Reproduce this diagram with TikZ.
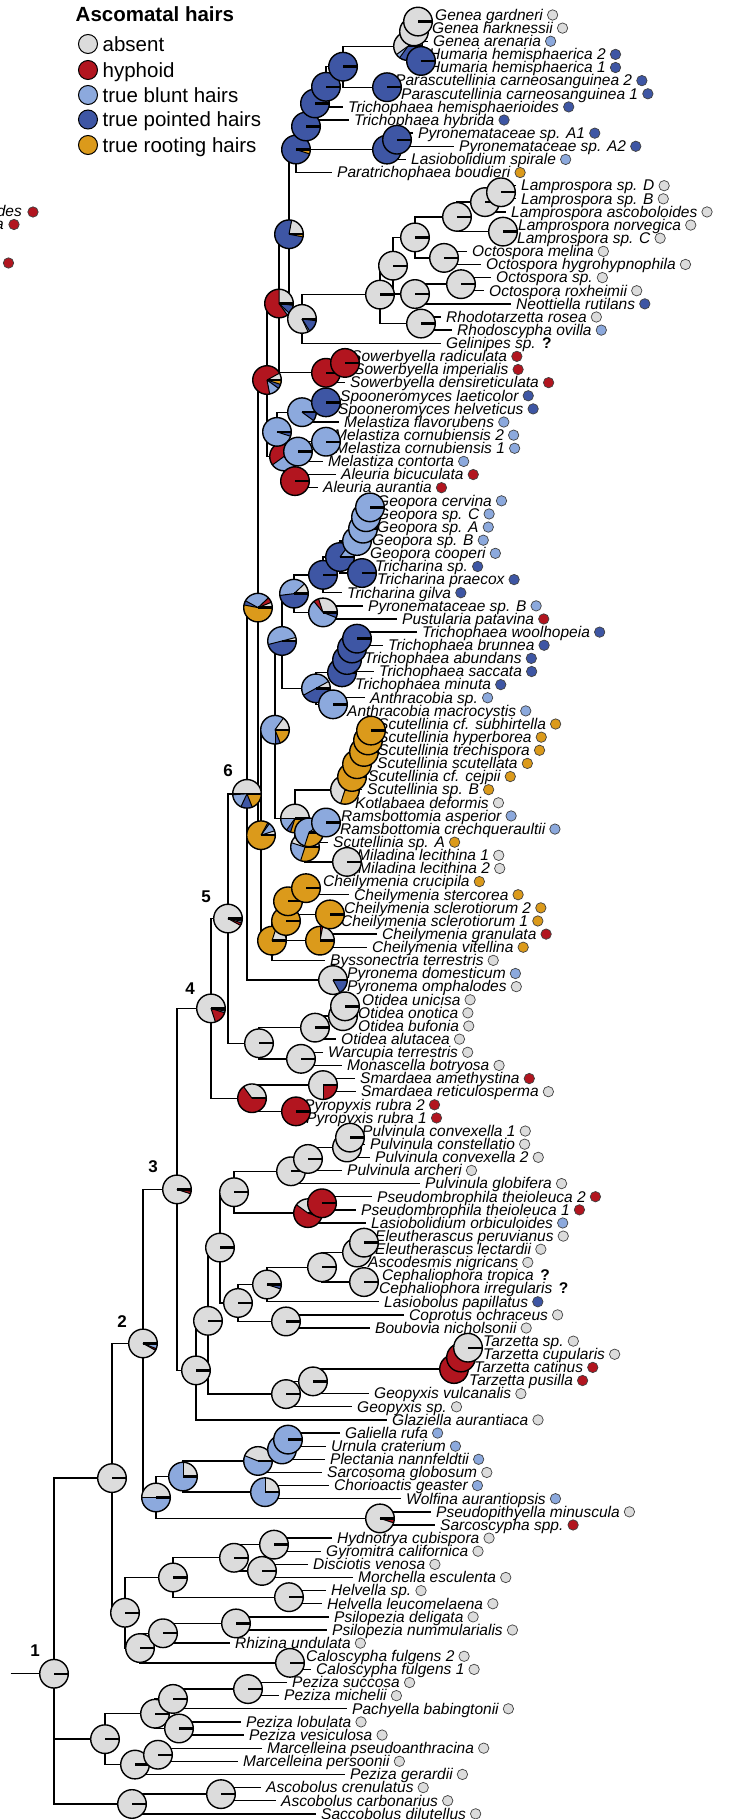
\documentclass[tikz,border=0pt]{standalone}
\usepackage{fontspec}
\setmainfont{Liberation Sans}
\usetikzlibrary{calc}
\pgfdeclarelayer{edges}
\pgfsetlayers{edges,main}

\definecolor{cAbs}{HTML}{DCDCDC}
\definecolor{cHyp}{HTML}{B2151F}
\definecolor{cBlu}{HTML}{8CA9DD}
\definecolor{cPoi}{HTML}{3E56A4}
\definecolor{cRoo}{HTML}{DB9A1B}

\tikzset{
  branch/.style={line width=1.35pt, line join=miter},
  pieedge/.style={line width=1.4pt},
  pieslicer/.style={line width=1pt},
  pietick/.style={line width=2.4pt},
  taxon/.style={font=\fontsize{15.5}{15.5}\selectfont\itshape, anchor=base west, inner sep=0pt},
  qmark/.style={font=\fontsize{15.5}{15.5}\selectfont\bfseries, anchor=base west, inner sep=0pt},
  tipdot/.style={line width=0.7pt, draw=black!75},
  legdot/.style={line width=1pt, draw=black},
  legtext/.style={font=\fontsize{20.5}{20.5}\selectfont, anchor=base west, inner sep=0pt},
  numlab/.style={font=\fontsize{17}{17}\selectfont\bfseries, inner sep=0pt},
}

% pie geometry
\def\prr{14.3pt}
% single-state pies
\def\gA{{1}{0}{0}{0}{0}}
\def\gH{{0}{1}{0}{0}{0}}
\def\gB{{0}{0}{1}{0}{0}}
\def\gP{{0}{0}{0}{1}{0}}
\def\gR{{0}{0}{0}{0}{1}}

\newcommand\Y[1]{\csname ny#1\endcsname}

% one wedge of a pie, counterclockwise from #2 to #3 degrees
\newcommand\pieslice[4]{%
  \pgfmathsetmacro\pw{#3-#2}%
  \ifdim\pw pt>0.5pt
    \fill[#4] (#1) -- ++({\prr*cos(#2)},{\prr*sin(#2)}) arc[start angle=#2, end angle=#3, radius=\prr] -- cycle;
    \draw[pieslicer] (#1) -- ++({\prr*cos(#2)},{\prr*sin(#2)});
  \fi}

% pie of the five states: absent, hyphoid, blunt, pointed, rooting
\newcommand\piechart[6]{%
  \pgfmathsetmacro\ptot{#2+#3+#4+#5+#6}%
  \pgfmathsetmacro\pA{360*(#2)/\ptot}%
  \pgfmathsetmacro\pB{360*(#2+#3)/\ptot}%
  \pgfmathsetmacro\pC{360*(#2+#3+#4)/\ptot}%
  \pgfmathsetmacro\pD{360*(#2+#3+#4+#5)/\ptot}%
  \pieslice{#1}{0}{\pA}{cAbs}%
  \pieslice{#1}{\pA}{\pB}{cHyp}%
  \pieslice{#1}{\pB}{\pC}{cBlu}%
  \pieslice{#1}{\pC}{\pD}{cPoi}%
  \pieslice{#1}{\pD}{360}{cRoo}%
  \draw[pieedge] (#1) circle[radius=\prr];
  \draw[pietick] (#1) -- ++(\prr,0pt);
}

% pies are queued so that the root is drawn first and deeper nodes on top
\gdef\pielist{}
\newcommand\queuepie[2]{\xdef\pielist{\noexpand\piechart{#1}#2\unexpanded\expandafter{\pielist}}}

% tip: name, row, branch end, label, state colour
\newcommand\tip[5]{%
  \expandafter\pgfmathsetmacro\csname ny#1\endcsname{15+13.13*#2}%
  \coordinate (#1) at (#3,\Y{#1});
  \node[taxon] (#1l) at ([xshift=5pt,yshift=-5.3pt]#1) {#4};
  \filldraw[tipdot,fill=#5] ([xshift=9.5pt]#1l.east |- #1) circle[radius=5.2pt];
}
% tip with unknown state
\newcommand\tipq[4]{%
  \expandafter\pgfmathsetmacro\csname ny#1\endcsname{15+13.13*#2}%
  \coordinate (#1) at (#3,\Y{#1});
  \node[taxon] (#1l) at ([xshift=5pt,yshift=-5.3pt]#1) {#4};
  \node[qmark] (#1q) at ([xshift=6pt]#1l.base east) {?};
}
% internal node: name, x, upper child, lower child, pie shares
\newcommand\clade[5]{%
  \expandafter\pgfmathsetmacro\csname ny#1\endcsname{(\Y{#3}+\Y{#4})/2}%
  \coordinate (#1) at (#2,\Y{#1});
  \begin{pgfonlayer}{edges}
    \draw[branch] (#3) -- (#2,\Y{#3}) -- (#2,\Y{#4}) -- (#4);
  \end{pgfonlayer}
  \queuepie{#1}{#5}%
}
% node with three children
\newcommand\cladeiii[6]{%
  \expandafter\pgfmathsetmacro\csname ny#1\endcsname{(\Y{#3}+\Y{#4}+\Y{#5})/3}%
  \coordinate (#1) at (#2,\Y{#1});
  \begin{pgfonlayer}{edges}
    \draw[branch] (#3) -- (#2,\Y{#3}) -- (#2,\Y{#5}) -- (#5);
    \draw[branch] (#2,\Y{#4}) -- (#4);
  \end{pgfonlayer}
  \queuepie{#1}{#6}%
}

\begin{document}
\begin{tikzpicture}[x=1pt,y=-1pt]
\useasboundingbox (0,0) rectangle (732,1819);
\clip (0,0) rectangle (732,1819);

% ---------- legend ----------
\node[anchor=base west, inner sep=0pt, font=\fontsize{20.5}{20.5}\selectfont\bfseries] (lgT) at (75.5,21.5) {Ascomatal hairs};
\foreach \c/\t/\yy [count=\i] in {cAbs/absent/44, cHyp/hyphoid/70, cBlu/true blunt hairs/95, cPoi/true pointed hairs/119.5, cRoo/true rooting hairs/145}{
  \filldraw[legdot, fill=\c] (88,\yy) circle[radius=9.5pt];
  \node[legtext] (lg\i) at (102.5,\yy+7.2) {\t};
}

% ---------- label ends cut off at the left margin ----------
\node[taxon, anchor=base east] (fragA) at (22,217) {des};
\filldraw[tipdot,fill=cHyp] (33,212) circle[radius=5.2pt];
\node[taxon, anchor=base east] (fragB) at (4,229.5) {a};
\filldraw[tipdot,fill=cHyp] (14,224.5) circle[radius=5.2pt];
\filldraw[tipdot,fill=cHyp] (8.5,263) circle[radius=5.2pt];

% ---------- tips ----------
\tip{t0}{0}{430}{Genea gardneri}{cAbs}
\tip{t1}{1}{427}{Genea harknessii}{cAbs}
\tip{t2}{2}{428}{Genea arenaria}{cBlu}
\tip{t3}{3}{424}{Humaria hemisphaerica 2}{cPoi}
\tip{t4}{4}{424}{Humaria hemisphaerica 1}{cPoi}
\tip{t5}{5}{390}{Parascutellinia carneosanguinea 2}{cPoi}
\tip{t6}{6}{396}{Parascutellinia carneosanguinea 1}{cPoi}
\tip{t7}{7}{343}{Trichophaea hemisphaerioides}{cPoi}
\tip{t8}{8}{349}{Trichophaea hybrida}{cPoi}
\tip{t9}{9}{413}{Pyronemataceae sp. A1}{cPoi}
\tip{t10}{10}{454}{Pyronemataceae sp. A2}{cPoi}
\tip{t11}{11}{406}{Lasiobolidium spirale}{cBlu}
\tip{t12}{12}{332}{Paratrichophaea boudieri}{cRoo}
\tip{t13}{13}{516}{Lamprospora sp. D}{cAbs}
\tip{t14}{14}{516}{Lamprospora sp. B}{cAbs}
\tip{t15}{15}{506}{Lamprospora ascoboloides}{cAbs}
\tip{t16}{16}{513}{Lamprospora norvegica}{cAbs}
\tip{t17}{17}{512}{Lamprospora sp. C}{cAbs}
\tip{t18}{18}{467}{Octospora melina}{cAbs}
\tip{t19}{19}{481}{Octospora hygrohypnophila}{cAbs}
\tip{t20}{20}{491}{Octospora sp.}{cAbs}
\tip{t21}{21}{484}{Octospora roxheimii}{cAbs}
\tip{t22}{22}{511}{Neottiella rutilans}{cPoi}
\tip{t23}{23}{441}{Rhodotarzetta rosea}{cAbs}
\tip{t24}{24}{452}{Rhodoscypha ovilla}{cBlu}
\tipq{t25}{25}{441}{Gelinipes sp.}
\tip{t26}{26}{346}{Sowerbyella radiculata}{cHyp}
\tip{t27}{27}{349}{Sowerbyella imperialis}{cHyp}
\tip{t28}{28}{345}{Sowerbyella densireticulata}{cHyp}
\tip{t29}{29}{335}{Spooneromyces laeticolor}{cPoi}
\tip{t30}{30}{333}{Spooneromyces helveticus}{cPoi}
\tip{t31}{31}{339}{Melastiza flavorubens}{cBlu}
\tip{t32}{32}{329}{Melastiza cornubiensis 2}{cBlu}
\tip{t33}{33}{330}{Melastiza cornubiensis 1}{cBlu}
\tip{t34}{34}{323}{Melastiza contorta}{cBlu}
\tip{t35}{35}{336}{Aleuria bicuculata}{cHyp}
\tip{t36}{36}{318}{Aleuria aurantia}{cHyp}
\tip{t37}{37}{372}{Geopora cervina}{cBlu}
\tip{t38}{38}{372}{Geopora sp. C}{cBlu}
\tip{t39}{39}{372}{Geopora sp. A}{cBlu}
\tip{t40}{40}{367}{Geopora sp. B}{cBlu}
\tip{t41}{41}{365}{Geopora cooperi}{cBlu}
\tip{t42}{42}{370}{Tricharina sp.}{cPoi}
\tip{t43}{43}{372}{Tricharina praecox}{cPoi}
\tip{t44}{44}{342}{Tricharina gilva}{cPoi}
\tip{t45}{45}{363}{Pyronemataceae sp. B}{cBlu}
\tip{t46}{46}{397}{Pustularia patavina}{cHyp}
\tip{t47}{47}{417}{Trichophaea woolhopeia}{cPoi}
\tip{t48}{48}{383}{Trichophaea brunnea}{cPoi}
\tip{t49}{49}{359}{Trichophaea abundans}{cPoi}
\tip{t50}{50}{374}{Trichophaea saccata}{cPoi}
\tip{t51}{51}{350}{Trichophaea minuta}{cPoi}
\tip{t52}{52}{365}{Anthracobia sp.}{cBlu}
\tip{t53}{53}{342}{Anthracobia macrocystis}{cBlu}
\tip{t54}{54}{373}{Scutellinia cf. subhirtella}{cRoo}
\tip{t55}{55}{373}{Scutellinia hyperborea}{cRoo}
\tip{t56}{56}{373}{Scutellinia trechispora}{cRoo}
\tip{t57}{57}{372}{Scutellinia scutellata}{cRoo}
\tip{t58}{58}{363}{Scutellinia cf. cejpii}{cRoo}
\tip{t59}{59}{362}{Scutellinia sp. B}{cRoo}
\tip{t60}{60}{350}{Kotlabaea deformis}{cAbs}
\tip{t61}{61}{336}{Ramsbottomia asperior}{cBlu}
\tip{t62}{62}{335}{Ramsbottomia crechqueraultii}{cBlu}
\tip{t63}{63}{328}{Scutellinia sp. A}{cRoo}
\tip{t64}{64}{352}{Miladina lecithina 1}{cAbs}
\tip{t65}{65}{353}{Miladina lecithina 2}{cAbs}
\tip{t66}{66}{318}{Cheilymenia crucipila}{cRoo}
\tip{t67}{67}{349}{Cheilymenia stercorea}{cRoo}
\tip{t68}{68}{339}{Cheilymenia sclerotiorum 2}{cRoo}
\tip{t69}{69}{336}{Cheilymenia sclerotiorum 1}{cRoo}
\tip{t70}{70}{377}{Cheilymenia granulata}{cHyp}
\tip{t71}{71}{367}{Cheilymenia vitellina}{cRoo}
\tip{t72}{72}{325}{Byssonectria terrestris}{cAbs}
\tip{t73}{73}{342}{Pyronema domesticum}{cBlu}
\tip{t74}{74}{342}{Pyronema omphalodes}{cAbs}
\tip{t75}{75}{357}{Otidea unicisa}{cAbs}
\tip{t76}{76}{353}{Otidea onotica}{cAbs}
\tip{t77}{77}{353}{Otidea bufonia}{cAbs}
\tip{t78}{78}{336}{Otidea alutacea}{cAbs}
\tip{t79}{79}{323}{Warcupia terrestris}{cAbs}
\tip{t80}{80}{342}{Monascella botryosa}{cAbs}
\tip{t81}{81}{355}{Smardaea amethystina}{cHyp}
\tip{t82}{82}{356}{Smardaea reticulosperma}{cAbs}
\tip{t83}{83}{299}{Pyropyxis rubra 2}{cHyp}
\tip{t84}{84}{301}{Pyropyxis rubra 1}{cHyp}
\tip{t85}{85}{357}{Pulvinula convexella 1}{cAbs}
\tip{t86}{86}{365}{Pulvinula constellatio}{cAbs}
\tip{t87}{87}{370}{Pulvinula convexella 2}{cAbs}
\tip{t88}{88}{342}{Pulvinula archeri}{cAbs}
\tip{t89}{89}{420}{Pulvinula globifera}{cAbs}
\tip{t90}{90}{372}{Pseudombrophila theioleuca 2}{cHyp}
\tip{t91}{91}{356}{Pseudombrophila theioleuca 1}{cHyp}
\tip{t92}{92}{366}{Lasiobolidium orbiculoides}{cBlu}
\tip{t93}{93}{370}{Eleutherascus peruvianus}{cAbs}
\tip{t94}{94}{370}{Eleutherascus lectardii}{cAbs}
\tip{t95}{95}{363}{Ascodesmis nigricans}{cAbs}
\tipq{t96}{96}{377}{Cephaliophora tropica}
\tipq{t97}{97}{374}{Cephaliophora irregularis}
\tip{t98}{98}{379}{Lasiobolus papillatus}{cPoi}
\tip{t99}{99}{404}{Coprotus ochraceus}{cAbs}
\tip{t100}{100}{370}{Boubovia nicholsonii}{cAbs}
\tip{t101}{101}{478}{Tarzetta sp.}{cAbs}
\tip{t102}{102}{478}{Tarzetta cupularis}{cAbs}
\tip{t103}{103}{469}{Tarzetta catinus}{cHyp}
\tip{t104}{104}{464}{Tarzetta pusilla}{cHyp}
\tip{t105}{105}{369}{Geopyxis vulcanalis}{cAbs}
\tip{t106}{106}{352}{Geopyxis sp.}{cAbs}
\tip{t107}{107}{387}{Glaziella aurantiaca}{cAbs}
\tip{t108}{108}{340}{Galiella rufa}{cBlu}
\tip{t109}{109}{326}{Urnula craterium}{cBlu}
\tip{t110}{110}{325}{Plectania nannfeldtii}{cBlu}
\tip{t111}{111}{322}{Sarcosoma globosum}{cAbs}
\tip{t112}{112}{329}{Chorioactis geaster}{cBlu}
\tip{t113}{113}{401}{Wolfina aurantiopsis}{cBlu}
\tip{t114}{114}{431}{Pseudopithyella minuscula}{cAbs}
\tip{t115}{115}{435}{Sarcoscypha spp.}{cHyp}
\tip{t116}{116}{332}{Hydnotrya cubispora}{cAbs}
\tip{t117}{117}{321}{Gyromitra californica}{cAbs}
\tip{t118}{118}{308}{Disciotis venosa}{cAbs}
\tip{t119}{119}{353}{Morchella esculenta}{cAbs}
\tip{t120}{120}{326}{Helvella sp.}{cAbs}
\tip{t121}{121}{322}{Helvella leucomelaena}{cAbs}
\tip{t122}{122}{329}{Psilopezia deligata}{cAbs}
\tip{t123}{123}{327}{Psilopezia nummularialis}{cAbs}
\tip{t124}{124}{230}{Rhizina undulata}{cAbs}
\tip{t125}{125}{301}{Caloscypha fulgens 2}{cAbs}
\tip{t126}{126}{311}{Caloscypha fulgens 1}{cAbs}
\tip{t127}{127}{287}{Peziza succosa}{cAbs}
\tip{t128}{128}{279}{Peziza michelii}{cAbs}
\tip{t129}{129}{347}{Pachyella babingtonii}{cAbs}
\tip{t130}{130}{241}{Peziza lobulata}{cAbs}
\tip{t131}{131}{244}{Peziza vesiculosa}{cAbs}
\tip{t132}{132}{262}{Marcelleina pseudoanthracina}{cAbs}
\tip{t133}{133}{238}{Marcelleina persoonii}{cAbs}
\tip{t134}{134}{345}{Peziza gerardii}{cAbs}
\tip{t135}{135}{261}{Ascobolus crenulatus}{cAbs}
\tip{t136}{136}{276}{Ascobolus carbonarius}{cAbs}
\tip{t137}{137}{316}{Saccobolus dilutellus}{cAbs}

% ---------- internal nodes ----------
\clade{g1}{418}{t0}{t1}{\gA}
\clade{g2}{414}{g1}{t2}{\gA}
\clade{h1}{421}{t3}{t4}{\gP}
\clade{gh}{408}{g2}{h1}{{0.6}{0}{0.05}{0.35}{0}}
\clade{p1}{387}{t5}{t6}{\gP}
\clade{na}{343}{gh}{p1}{\gP}
\clade{nb}{326}{na}{t7}{\gP}
\clade{nc}{315}{nb}{t8}{\gP}
\clade{pa1}{397}{t9}{t10}{\gP}
\clade{pa2}{387}{pa1}{t11}{\gP}
\clade{nd}{306}{nc}{pa2}{\gP}
\clade{ne}{296}{nd}{t12}{{0}{0}{0}{0.95}{0.05}}
\clade{l1}{501}{t13}{t14}{\gA}
\clade{l2}{485}{l1}{t15}{\gA}
\clade{l3}{503}{t16}{t17}{\gA}
\clade{l4}{457}{l2}{l3}{\gA}
\clade{o1}{444}{t18}{t19}{\gA}
\clade{l5}{415}{l4}{o1}{\gA}
\clade{o2}{461}{t20}{t21}{\gA}
\clade{o3}{415}{o2}{t22}{\gA}
\clade{l6}{393}{l5}{o3}{\gA}
\clade{r1}{421}{t23}{t24}{\gA}
\clade{l7}{380}{l6}{r1}{\gA}
\clade{l8}{302}{l7}{t25}{{0.82}{0}{0.02}{0.14}{0.02}}
\clade{nB}{289}{ne}{l8}{{0.22}{0}{0}{0.75}{0.03}}
\clade{sw1}{345}{t26}{t27}{\gH}
\clade{sw2}{326}{sw1}{t28}{\gH}
\clade{nF}{279}{nB}{sw2}{{0.25}{0.6}{0.03}{0.1}{0.02}}
\clade{sp1}{326}{t29}{t30}{\gP}
\clade{m1}{302}{sp1}{t31}{{0}{0}{0.9}{0.1}{0}}
\clade{m2}{326}{t32}{t33}{\gB}
\clade{m3}{298}{m2}{t34}{\gB}
\clade{m4}{277}{m1}{m3}{{0}{0}{0.95}{0.05}{0}}
\clade{al}{295}{t35}{t36}{\gH}
\clade{m5}{284}{m4}{al}{{0}{0.6}{0.4}{0}{0}}
\clade{nR}{267}{nF}{m5}{{0.08}{0.7}{0.12}{0.05}{0.05}}
\clade{ge1}{370}{t37}{t38}{\gB}
\clade{ge2}{366}{ge1}{t39}{\gB}
\clade{ge3}{363}{ge2}{t40}{\gB}
\clade{ge4}{357}{ge3}{t41}{\gB}
\clade{tr1}{362}{t42}{t43}{\gP}
\clade{ge5}{340}{ge4}{tr1}{{0}{0}{0.15}{0.85}{0}}
\clade{ge6}{323}{ge5}{t44}{\gP}
\clade{pp}{323}{t45}{t46}{{0.3}{0.06}{0.58}{0.06}{0}}
\clade{ge7}{294}{ge6}{pp}{{0.12}{0}{0.4}{0.48}{0}}
\clade{tc1}{357}{t47}{t48}{\gP}
\clade{tc2}{352}{tc1}{t49}{\gP}
\clade{tc3}{347}{tc2}{t50}{\gP}
\clade{tc4}{342}{tc3}{t51}{\gP}
\clade{an}{333}{t52}{t53}{\gB}
\clade{tc5}{316}{tc4}{an}{{0.08}{0}{0.5}{0.42}{0}}
\clade{ga}{282}{ge7}{tc5}{{0.04}{0}{0.5}{0.46}{0}}
\clade{s1}{371}{t54}{t55}{\gR}
\clade{s2}{368}{s1}{t56}{\gR}
\clade{s3}{364}{s2}{t57}{\gR}
\clade{s4}{357}{s3}{t58}{\gR}
\clade{s5}{352}{s4}{t59}{\gR}
\clade{s6}{345}{s5}{t60}{{0.7}{0}{0}{0}{0.3}}
\clade{rb}{326}{t61}{t62}{\gB}
\clade{rs}{309}{rb}{t63}{{0.1}{0}{0.6}{0}{0.3}}
\clade{mi}{347}{t64}{t65}{\gA}
\clade{rsm}{305}{rs}{mi}{{0.45}{0}{0.25}{0}{0.3}}
\clade{sc}{295}{s6}{rsm}{{0.5}{0}{0.15}{0.05}{0.3}}
\clade{nG}{275}{ga}{sc}{{0.15}{0}{0.6}{0.06}{0.19}}
\clade{c1}{306}{t66}{t67}{\gR}
\clade{c2}{330}{t68}{t69}{\gR}
\clade{c3}{288}{c1}{c2}{\gR}
\clade{c4}{320}{t70}{t71}{{0.22}{0.03}{0}{0}{0.75}}
\clade{c5}{286}{c3}{c4}{\gR}
\clade{c6}{272}{c5}{t72}{{0.2}{0}{0}{0}{0.8}}
\clade{nX}{261}{nG}{c6}{{0.05}{0}{0.1}{0.02}{0.83}}
\clade{nY}{258}{nR}{nX}{{0.06}{0.06}{0.3}{0.05}{0.53}}
\clade{py}{333}{t73}{t74}{{0.83}{0}{0}{0.17}{0}}
\clade{n6}{247}{nY}{py}{{0.5}{0.01}{0.17}{0.13}{0.19}}
\clade{ot1}{345}{t75}{t76}{\gA}
\clade{ot2}{343}{ot1}{t77}{\gA}
\clade{ot3}{315}{ot2}{t78}{\gA}
\clade{wm}{301}{t79}{t80}{\gA}
\clade{oc}{259}{ot3}{wm}{\gA}
\clade{n5}{228}{n6}{oc}{{0.92}{0.03}{0.02}{0.01}{0.02}}
\clade{sm}{323}{t81}{t82}{{0.75}{0.25}{0}{0}{0}}
\clade{pyr}{296}{t83}{t84}{\gH}
\clade{spp}{252}{sm}{pyr}{{0.35}{0.65}{0}{0}{0}}
\clade{n4}{211}{n5}{spp}{{0.8}{0.15}{0.02}{0.01}{0.02}}
\clade{pu1}{350}{t85}{t86}{\gA}
\clade{pu2}{347}{pu1}{t87}{\gA}
\clade{pu3}{308}{pu2}{t88}{\gA}
\clade{pu4}{291}{pu3}{t89}{\gA}
\clade{ps1}{322}{t90}{t91}{\gH}
\clade{ps2}{308}{ps1}{t92}{{0.4}{0.55}{0.05}{0}{0}}
\clade{n165}{234}{pu4}{ps2}{\gA}
\clade{el1}{364}{t93}{t94}{\gA}
\clade{el2}{357}{el1}{t95}{\gA}
\clade{ce}{364}{t96}{t97}{\gA}
\clade{el3}{322}{el2}{ce}{\gA}
\clade{la}{267}{el3}{t98}{{0.95}{0}{0}{0.05}{0}}
\clade{cb}{286}{t99}{t100}{\gA}
\clade{n168}{238}{la}{cb}{\gA}
\clade{n155}{220}{n165}{n168}{\gA}
\clade{tz1}{468}{t101}{t102}{\gA}
\clade{tz2}{461}{tz1}{t103}{\gH}
\clade{tz3}{454}{tz2}{t104}{\gH}
\clade{gx1}{313}{tz3}{t105}{\gA}
\clade{gx2}{286}{gx1}{t106}{\gA}
\clade{n147}{208}{n155}{gx2}{\gA}
\clade{n138}{196}{n147}{t107}{\gA}
\clade{n3}{177}{n4}{n138}{{0.95}{0.03}{0.01}{0}{0.01}}
\clade{sa1}{288}{t108}{t109}{\gB}
\clade{sa2}{282}{sa1}{t110}{\gB}
\clade{sa3}{258}{sa2}{t111}{{0.44}{0}{0.56}{0}{0}}
\clade{sa4}{265}{t112}{t113}{{0.25}{0}{0.75}{0}{0}}
\clade{sa5}{183}{sa3}{sa4}{{0.25}{0}{0.75}{0}{0}}
\clade{sc1}{380}{t114}{t115}{{0.95}{0.05}{0}{0}{0}}
\clade{sa6}{156}{sa5}{sc1}{{0.5}{0}{0.5}{0}{0}}
\clade{n2}{143}{n3}{sa6}{{0.92}{0.02}{0.05}{0}{0.01}}
\clade{hg}{274}{t116}{t117}{\gA}
\clade{dm}{262}{t118}{t119}{\gA}
\clade{hd}{234}{hg}{dm}{\gA}
\clade{he}{289}{t120}{t121}{\gA}
\clade{hh}{173}{hd}{he}{\gA}
\clade{psi}{236}{t122}{t123}{\gA}
\clade{pr}{163}{psi}{t124}{\gA}
\clade{ca}{290}{t125}{t126}{\gA}
\clade{prc}{140}{pr}{ca}{\gA}
\clade{ab}{125}{hh}{prc}{\gA}
\clade{nA}{112}{n2}{ab}{\gA}
\clade{pz1}{248}{t127}{t128}{\gA}
\clade{pz2}{173}{pz1}{t129}{\gA}
\clade{pz3}{179}{t130}{t131}{\gA}
\clade{b1}{155}{pz2}{pz3}{\gA}
\clade{mc}{158}{t132}{t133}{\gA}
\clade{b2}{135}{mc}{t134}{\gA}
\clade{nBb}{105}{b1}{b2}{\gA}
\clade{as1}{221}{t135}{t136}{\gA}
\clade{nC}{132}{as1}{t137}{\gA}
\cladeiii{root}{54}{nA}{nBb}{nC}{\gA}
\coordinate (stem) at (10.7,\Y{root});
\begin{pgfonlayer}{edges}
  \draw[branch] (stem) -- (root);
\end{pgfonlayer}

% ---------- pies, root first ----------
\pielist

% ---------- node numbers ----------
\node[numlab] (lab1) at (35,1651) {1};
\node[numlab] (lab2) at (122,1322) {2};
\node[numlab] (lab3) at (153,1167) {3};
\node[numlab] (lab4) at (190,989) {4};
\node[numlab] (lab5) at (206,897) {5};
\node[numlab] (lab6) at (228,771) {6};
\end{tikzpicture}
\end{document}
